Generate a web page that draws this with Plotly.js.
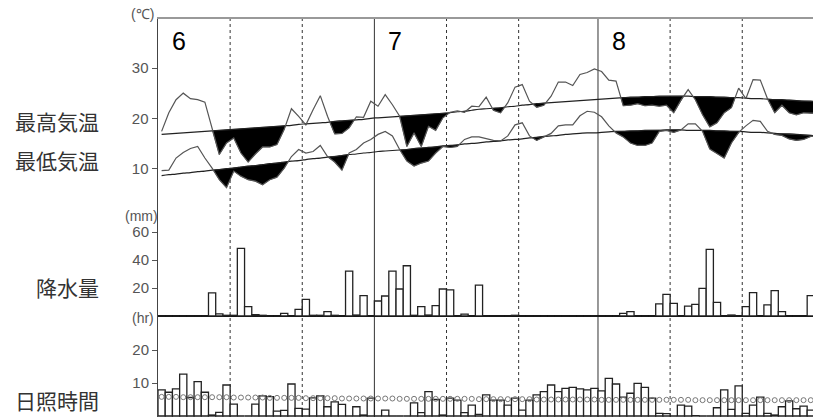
<!DOCTYPE html>
<html><head><meta charset="utf-8">
<script src="https://cdn.plot.ly/plotly-3.0.1.min.js"></script>
<style>html,body{margin:0;padding:0;background:#fff}#chart{width:813px;height:417px}</style>
</head><body><div id="chart"></div>
<script>
// Days from June 1 (index 0) to August 31 (index 91)
const monthNames = ['6','7','8'];
const monthStarts = [0, 30, 61];
const dekadStarts = [10, 20, 40, 50, 71, 81];

const tMax = [17.4,21.1,23.7,25.0,23.9,23.7,23.2,17.8,12.8,15.1,
 16.1,13.1,11.3,12.9,14.3,14.3,14.8,17.8,21.9,20.4,
 18.7,21.7,24.5,20.4,16.9,17.0,18.1,20.3,20.2,23.4,
 22.4,24.7,22.7,20.4,14.4,17.1,14.4,18.4,17.6,20.1,
 21.2,21.5,21.2,22.4,22.3,24.2,21.6,21.1,23.1,26.2,
 26.7,23.4,22.2,22.6,24.4,27.2,27.2,26.5,28.7,29.1,
 29.8,29.3,27.6,27.4,22.5,22.6,22.9,22.5,22.6,22.4,
 22.6,21.1,23.6,25.7,23.7,20.7,18.3,19.1,21.1,22.1,
 26.0,23.9,27.7,27.6,23.9,21.1,22.6,21.1,20.7,21.1,
 21.0,21.0];
const tMin = [9.6,9.7,12.1,13.2,14.0,14.4,12.1,10.1,7.8,6.2,
 9.5,8.5,7.8,7.5,6.8,7.8,8.3,10.1,12.4,13.8,
 13.1,13.4,14.6,12.4,11.3,9.7,13.1,13.8,15.1,15.8,
 16.8,17.4,16.5,13.8,11.5,10.5,11.1,11.5,13.1,14.4,
 14.2,14.4,15.8,16.3,16.3,16.0,15.6,15.5,16.5,18.7,
 19.1,16.5,15.6,16.3,17.0,18.5,18.7,18.7,20.5,21.4,
 21.2,20.3,18.5,17.1,16.3,15.1,14.6,14.6,15.1,17.4,
 17.6,17.2,17.7,18.9,18.9,17.4,13.9,13.0,12.1,15.1,
 17.2,18.5,19.6,19.4,17.4,16.8,16.6,15.9,15.6,15.8,
 16.4,16.5];
const tMaxNormal = [16.8,16.9,17.0,17.1,17.2,17.3,17.4,17.5,17.6,17.7,
 17.8,17.9,18.0,18.1,18.2,18.3,18.4,18.5,18.6,18.8,
 18.9,19.0,19.1,19.2,19.4,19.5,19.6,19.7,19.8,20.0,
 20.1,20.2,20.3,20.4,20.5,20.6,20.7,20.8,20.9,21.0,
 21.1,21.3,21.4,21.6,21.8,21.9,22.0,22.1,22.3,22.4,
 22.6,22.7,22.9,23.0,23.1,23.2,23.3,23.4,23.5,23.6,
 23.7,23.8,23.9,24.0,24.1,24.2,24.2,24.3,24.3,24.4,
 24.4,24.4,24.4,24.4,24.3,24.3,24.3,24.2,24.2,24.1,
 24.1,24.0,23.9,23.9,23.8,23.7,23.7,23.6,23.5,23.4,
 23.4,23.3];
const tMinNormal = [8.6,8.8,8.9,9.1,9.2,9.4,9.5,9.7,9.8,10.0,
 10.1,10.3,10.5,10.6,10.8,11.0,11.1,11.3,11.5,11.6,
 11.8,12.0,12.1,12.3,12.4,12.6,12.8,12.9,13.1,13.2,
 13.4,13.5,13.6,13.7,13.8,14.0,14.1,14.2,14.3,14.5,
 14.6,14.7,14.9,15.0,15.1,15.3,15.4,15.5,15.7,15.8,
 15.9,16.1,16.2,16.4,16.5,16.6,16.8,16.9,17.0,17.1,
 17.1,17.2,17.3,17.4,17.4,17.5,17.5,17.6,17.6,17.6,
 17.7,17.7,17.7,17.6,17.6,17.6,17.6,17.5,17.5,17.4,
 17.4,17.3,17.2,17.2,17.1,17.0,16.9,16.9,16.8,16.7,
 16.6,16.5];
const precip = [0,0,0,0,0,0,0,16.5,1.5,0.5,
 0.5,48.3,6.7,1.0,0.5,0,0,1.9,0,4.8,
 11.9,0.5,0.5,3.1,0.5,0,32.1,0.7,14.5,0,
 10.7,14.3,32.1,19.3,35.9,0.5,6.7,0.7,7.4,19.3,
 18.6,0,1.4,0,22.1,0,0,0,0,0.5,
 0,0,0,0,0,0,0,0,0,0,
 0,0,0,0,1.9,3.1,0,0,0,8.6,
 15.5,9.0,0,7.1,8.3,19.8,47.6,9.8,0,0.7,
 0,6.7,16.7,0,7.9,18.1,3.1,0,0,0,
 14.5,0];
const sunshine = [7.9,7.2,8.2,12.7,5.6,10.4,7.2,0.3,1.1,9.4,
 3.6,0,0,3.6,6.1,5.9,1.5,1.7,9.7,2.3,
 2.1,5.5,6.1,2.8,4.3,3.5,0,2.8,0.3,5.4,
 0,1.8,0,0,0,4.0,1.0,7.4,5.0,0.3,
 5.4,4.8,1.0,3.3,0.5,6.4,4.8,4.8,3.3,5.4,
 1.8,4.8,6.4,7.4,9.4,7.4,8.4,8.7,8.2,7.9,
 8.4,7.6,11.4,9.7,5.7,6.9,9.9,8.7,5.4,0.8,
 0.7,0,3.3,3.0,0.1,0,0,2.5,7.9,2.0,
 9.1,0.8,3.3,5.7,0.8,0.3,2.8,4.6,2.2,3.0,
 1.8,0];
const sunNormal = [5.8,5.8,5.8,5.7,5.7,5.7,5.7,5.7,5.7,5.7,
 5.6,5.6,5.6,5.6,5.6,5.5,5.5,5.5,5.5,5.5,
 5.4,5.4,5.4,5.4,5.4,5.3,5.3,5.3,5.3,5.3,
 5.3,5.3,5.3,5.2,5.2,5.2,5.2,5.2,5.2,5.2,
 5.2,5.2,5.2,5.2,5.1,5.1,5.1,5.1,5.1,5.1,
 5.1,5.1,5.0,5.0,5.0,5.0,5.0,5.0,5.0,5.0,
 5.0,4.9,4.9,4.9,4.9,4.9,4.9,4.9,4.9,4.9,
 4.9,4.9,4.9,4.9,4.8,4.8,4.8,4.8,4.8,4.8,
 4.8,4.8,4.8,4.8,4.8,4.8,4.8,4.8,4.8,4.8,
 4.8,4.8];

const xDay = tMax.map((_, i) => i + 0.5);

function belowPolygons(act, nor) {
  const out = [];
  let xs = null, ya = null, yn = null;
  const cross = (i) => {
    const d0 = act[i-1] - nor[i-1], d1 = act[i] - nor[i];
    const t = d0 / (d0 - d1);
    return [i - 1 + 0.5 + t, nor[i-1] + t * (nor[i] - nor[i-1])];
  };
  for (let i = 0; i < act.length; i++) {
    const d = act[i] - nor[i];
    if (d < 0) {
      if (!xs) {
        xs = []; ya = []; yn = [];
        if (i > 0) { const c = cross(i); xs.push(c[0]); ya.push(c[1]); yn.push(c[1]); }
      }
      xs.push(i + 0.5); ya.push(act[i]); yn.push(nor[i]);
    } else if (xs) {
      const c = cross(i); xs.push(c[0]); ya.push(c[1]); yn.push(c[1]);
      out.push({x: xs.concat(xs.slice().reverse()), y: ya.concat(yn.slice().reverse())});
      xs = null;
    }
  }
  if (xs) out.push({x: xs.concat(xs.slice().reverse()), y: ya.concat(yn.slice().reverse())});
  return out;
}

const traces = [];
[[tMax, tMaxNormal], [tMin, tMinNormal]].forEach(([a, n]) => {
  belowPolygons(a, n).forEach(p => traces.push({
    type: 'scatter', mode: 'lines', x: p.x, y: p.y, fill: 'toself',
    fillcolor: '#000', line: {color: '#000', width: 0.5}, hoverinfo: 'skip', yaxis: 'y'
  }));
});
traces.push({type:'scatter', mode:'lines', x:xDay, y:tMaxNormal, line:{color:'#222', width:1.2, shape:'spline'}, yaxis:'y'});
traces.push({type:'scatter', mode:'lines', x:xDay, y:tMinNormal, line:{color:'#222', width:1.2, shape:'spline'}, yaxis:'y'});
traces.push({type:'scatter', mode:'lines', x:xDay, y:tMax, line:{color:'#555', width:1.2}, yaxis:'y'});
traces.push({type:'scatter', mode:'lines', x:xDay, y:tMin, line:{color:'#555', width:1.2}, yaxis:'y'});
traces.push({type:'bar', x:xDay, y:precip, width:1, marker:{color:'#fff', line:{color:'#222', width:1.3}}, yaxis:'y2'});
traces.push({type:'bar', x:xDay, y:sunshine, width:1, marker:{color:'#fff', line:{color:'#222', width:1.3}}, yaxis:'y3'});
traces.push({type:'scatter', mode:'markers', x:xDay, y:sunNormal, marker:{symbol:'circle-open', size:5, color:'#777', line:{width:1, color:'#777'}}, yaxis:'y3'});

const tickFont = {family:'Liberation Sans, Arial, sans-serif', size:15, color:'#555'};
const axBase = {showgrid:false, zeroline:false, ticks:'outside', ticklen:5, tickcolor:'#555', tickwidth:1, tickfont:tickFont, fixedrange:true};

// pixel helpers for annotations (plot area spans y 19..417, x 158..813)
const py = p => 1 - (p - 19) / 398;
const px = p => (p - 158) / 655;

const shapes = [];
monthStarts.slice(1).forEach(d => shapes.push({type:'line', xref:'x', yref:'paper', x0:d, x1:d, y0:0, y1:1, line:{color:'#333', width:1}, layer:'below'}));
dekadStarts.forEach(d => shapes.push({type:'line', xref:'x', yref:'paper', x0:d, x1:d, y0:0, y1:1, line:{color:'#333', width:1, dash:'3px,3px'}, layer:'below'}));

const annotations = [];
monthNames.forEach((m, k) => annotations.push({xref:'x', yref:'paper', x:monthStarts[k] + 2.9, y:py(41), text:m, showarrow:false, xanchor:'center', yanchor:'middle', font:{family:'Liberation Sans, Arial, sans-serif', size:25, color:'#000'}}));
const jp = {family:'Noto Sans CJK JP, sans-serif', size:21, color:'#333'};
[['最高気温',121],['最低気温',160],['降水量',287],['日照時間',400]].forEach(([t,y]) =>
  annotations.push({xref:'paper', yref:'paper', x:px(101), y:py(y), text:t, showarrow:false, xanchor:'right', yanchor:'middle', font:jp}));
const unitFont = {family:'Liberation Sans, Arial, sans-serif', size:14, color:'#555'};
[['(℃)',156,14],['(mm)',160,216],['(hr)',156,318]].forEach(([t,x,y]) =>
  annotations.push({xref:'paper', yref:'paper', x:px(x), y:py(y), text:t, showarrow:false, xanchor:'right', yanchor:'middle', font:unitFont}));

const layout = {
  width:813, height:417, margin:{l:158, r:0, t:19, b:0, pad:0},
  paper_bgcolor:'#fff', plot_bgcolor:'#fff', showlegend:false, barmode:'overlay', bargap:0,
  xaxis:{range:[0, 655/7.213], showgrid:false, zeroline:false, showticklabels:false, ticks:'', showline:true, side:'top', linecolor:'#999', linewidth:2, fixedrange:true},
  yaxis:Object.assign({}, axBase, {range:[30 - (417-68)/5.03, 30 + (68-19)/5.03], tickvals:[10,20,30], showline:true, linecolor:'#444', linewidth:1.5}),
  yaxis2:Object.assign({}, axBase, {overlaying:'y', side:'left', range:[-(417-316)/1.4, (316-19)/1.4], tickvals:[20,40,60], zeroline:true, zerolinecolor:'#000', zerolinewidth:2}),
  yaxis3:Object.assign({}, axBase, {overlaying:'y', side:'left', range:[-(417-416)/3.3, (416-19)/3.3], tickvals:[10,20]}),
  shapes:shapes, annotations:annotations
};
Plotly.newPlot('chart', traces, layout, {staticPlot:true, displayModeBar:false});
</script></body></html>
